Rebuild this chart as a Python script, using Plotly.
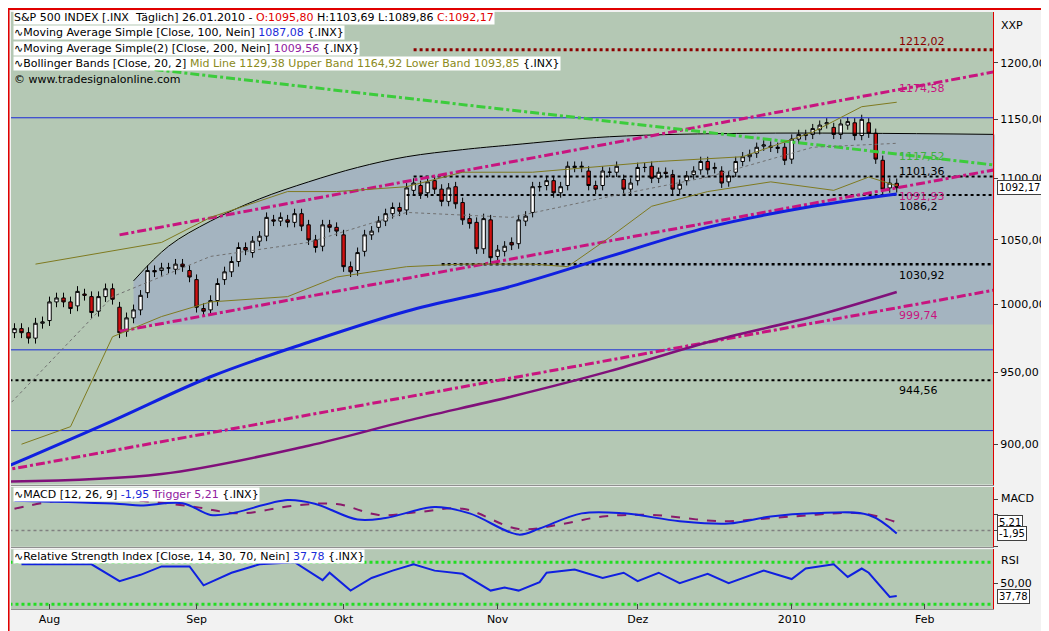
import math
import pandas as pd
import plotly.graph_objects as go
from plotly.subplots import make_subplots

# trading days Jul 21 2009 .. Feb 12 2010
holidays = ["2009-09-07", "2009-11-26", "2009-12-25", "2010-01-01", "2010-01-18", "2010-02-15"]
dates = [d for d in pd.bdate_range("2009-07-21", "2010-02-15") if d.strftime("%Y-%m-%d") not in holidays]

closes = [954, 954, 976, 979, 982, 979, 975, 986, 987,
          1002, 1005, 1002, 997, 1010, 1007, 994, 1006, 1012, 1004, 979, 990, 996, 1007, 1026, 1025, 1028, 1028, 1031, 1029, 1021,
          998, 995, 1003, 1016, 1025, 1033, 1044, 1042, 1049, 1053, 1068, 1065, 1068, 1064, 1071, 1061, 1050, 1044, 1062, 1060, 1057,
          1029, 1025, 1040, 1054, 1057, 1065, 1071, 1076, 1073, 1092, 1096, 1087, 1097, 1091, 1081, 1092, 1079, 1066, 1063, 1043, 1067, 1036,
          1042, 1045, 1046, 1066, 1069, 1093, 1093, 1098, 1088, 1093, 1110, 1110, 1110, 1094, 1091, 1106, 1105, 1110, 1091, 1096,
          1109, 1109, 1100, 1105, 1104, 1091, 1095, 1102, 1106, 1114, 1107, 1109, 1096, 1102, 1114, 1118, 1120, 1126, 1128, 1126, 1126, 1115,
          1133, 1137, 1137, 1142, 1145, 1147, 1137, 1146, 1148, 1136, 1150, 1138, 1116, 1091, 1096, 1092.17]
opens = [951, 954, 954, 976, 979, 982, 979, 975, 986,
         988, 1002, 1005, 1002, 999, 1008, 1006, 995, 1006, 1012, 998, 980, 990, 996, 1009, 1026, 1026, 1028, 1027, 1031, 1026,
         1019, 997, 996, 1003, 1019, 1025, 1033, 1044, 1040, 1049, 1053, 1066, 1065, 1066, 1064, 1071, 1062, 1050, 1045, 1062, 1060,
         1054, 1029, 1026, 1041, 1054, 1060, 1065, 1071, 1076, 1074, 1090, 1094, 1088, 1098, 1091, 1081, 1093, 1080, 1067, 1064, 1043, 1066,
         1037, 1041, 1048, 1047, 1065, 1072, 1093, 1094, 1098, 1088, 1094, 1109, 1109, 1106, 1094, 1094, 1105, 1105, 1099, 1091,
         1098, 1109, 1110, 1100, 1105, 1103, 1091, 1098, 1103, 1107, 1114, 1108, 1106, 1097, 1105, 1114, 1118, 1121, 1127, 1127, 1125, 1126,
         1116, 1133, 1136, 1137, 1141, 1146, 1143, 1137, 1145, 1147, 1136, 1147, 1138, 1115, 1092, 1095.8]
wick = 4

# indicators, sampled at trading-day indexes
ma100_idx = [3, 18, 32, 46, 60, 75, 89, 103, 118, 130]
ma100_val = [885, 916, 947, 972, 995, 1014, 1037, 1060, 1077, 1087.08]
ma200_idx = [3, 25, 46, 60, 75, 89, 103, 118, 130]
ma200_val = [875, 880, 899, 916, 933, 951, 972, 991, 1009.56]
bb_up_idx = [7, 18, 25, 32, 43, 50, 60, 68, 78, 86, 96, 108, 118, 125, 130]
bb_up_val = [1031, 1041, 1048, 1068, 1089, 1089, 1093, 1105, 1105, 1109, 1114, 1118, 1139, 1161, 1164.92]
bb_lo_idx = [5, 12, 18, 25, 32, 43, 50, 60, 68, 78, 83, 89, 95, 103, 112, 121, 126, 130]
bb_lo_val = [900, 912, 976, 991, 1002, 1006, 1021, 1029, 1031, 1031, 1029, 1052, 1077, 1089, 1097, 1090, 1101, 1093.85]
bb_mid_idx = [3, 18, 32, 46, 60, 75, 89, 103, 118, 130]
bb_mid_val = [926, 1006, 1037, 1048, 1072, 1068, 1085, 1101, 1126, 1129.38]
arc_idx = [21, 26, 32, 39, 46, 53, 60, 68, 75, 89, 110, 144]
arc_val = [1018, 1045, 1065, 1083, 1097, 1109, 1118, 1124, 1128, 1135, 1138, 1137]

macd_idx = [4, 19, 22, 28, 32, 35, 43, 47, 53, 57, 64, 69, 76, 79, 85, 91, 99, 106, 112, 118, 126, 130]
macd_val = [19, 17, 16, 17.5, 10, 11, 19.5, 17, 7, 8, 15, 11, -2.6, 1.3, 11, 11, 6, 4.5, 9, 11, 10, -1.95]
trig_idx = [4, 12, 22, 30, 36, 44, 50, 56, 62, 68, 76, 82, 88, 95, 105, 115, 125, 130]
trig_val = [14, 20, 19, 15, 11, 16, 17, 10, 12, 14, 1, 4, 9, 10, 6, 9, 11, 5.21]
rsi_idx = [5, 15, 19, 22, 25, 29, 31, 35, 39, 44, 48, 49, 52, 55, 58, 61, 64, 68, 72, 74, 76, 79, 80, 84, 88, 91, 93,
           96, 99, 103, 106, 111, 115, 117, 121, 123, 125, 126, 129, 130]
rsi_val = [68, 68, 52, 58, 66, 66, 48, 60, 68, 70, 53, 60, 43, 55, 62, 68, 62, 59, 43, 46, 43, 51, 60, 63, 55, 60, 52,
           60, 50, 59, 50, 62, 54, 64, 68, 56, 64, 60, 37, 37.78]

END = "2010-02-12 23:00"
X0_IDX, X1_IDX = 3.5, 143.75  # visible range in trading-day index
YLO, YHI = 873, 1247
GREY_BG = "#b4c8b4"
MAG = "#c8147f"
FONT = "DejaVu Sans"
lg = math.log10


def d(idx):
    return [dates[i] for i in idx]


def xf(i):
    return (i - X0_IDX) / (X1_IDX - X0_IDX)


def yf(v):
    return (lg(v) - lg(YLO)) / (lg(YHI) - lg(YLO))


fig = make_subplots(rows=3, cols=1, shared_xaxes=True, vertical_spacing=0.004,
                    row_heights=[0.79, 0.1, 0.1])

# shaded area under the arc (shape, below the candles)
pts = [(xf(arc_idx[0]), yf(985))] + [(xf(i), yf(v)) for i, v in zip(arc_idx, arc_val)] + [(1.0, yf(985))]
path = "M " + " L ".join(f"{a:.4f},{b:.4f}" for a, b in pts) + " Z"
shade = dict(type="path", xref="x domain", yref="y domain", path=path, fillcolor="#a4b4c0",
             line=dict(width=0), layer="below")

fig.add_trace(go.Scatter(x=d(arc_idx[:-1]) + [END], y=arc_val, mode="lines",
                         line=dict(color="black", width=1, shape="spline")), 1, 1)


def hline(y, color, dash, x0=None, width=1):
    fig.add_trace(go.Scatter(x=[x0 or "2009-07-20", END], y=[y, y], mode="lines",
                             line=dict(color=color, dash=dash, width=width)), 1, 1)


hline(1151.35, "#1a2ad8", "solid")
hline(966.43, "#1a2ad8", "solid")
hline(909.3, "#1a2ad8", "solid")
hline(1212.02, "#8b0000", "dot", dates[61], 3)
hline(1101.36, "black", "dot", dates[61], 2)
hline(1086.2, "black", "dot", dates[60], 2)
hline(1030.92, "black", "dot", dates[65], 2.5)
hline(944.56, "black", "dot", None, 2)

# trend lines
for x0, y0, y1, col in [(dates[19], 1054, 1192, MAG), (dates[19], 980, 1107, MAG),
                        ("2009-07-23", 882, 1011, MAG), (dates[24], 1194, 1111, "#3ccc3c")]:
    fig.add_trace(go.Scatter(x=[x0, END], y=[y0, y1], mode="lines",
                             line=dict(color=col, dash="dashdot", width=3)), 1, 1)

fig.add_trace(go.Scatter(x=d(bb_up_idx), y=bb_up_val, mode="lines", line=dict(color="#7f7a20", width=1)), 1, 1)
fig.add_trace(go.Scatter(x=d(bb_lo_idx), y=bb_lo_val, mode="lines", line=dict(color="#7f7a20", width=1)), 1, 1)
fig.add_trace(go.Scatter(x=d(bb_mid_idx), y=bb_mid_val, mode="lines", line=dict(color="#707070", width=1, dash="dot")), 1, 1)
fig.add_trace(go.Scatter(x=d(ma200_idx), y=ma200_val, mode="lines", line=dict(color="#80107a", width=2.5, shape="spline")), 1, 1)
fig.add_trace(go.Scatter(x=d(ma100_idx), y=ma100_val, mode="lines", line=dict(color="#1020e0", width=3, shape="spline")), 1, 1)

n = len(closes)
fig.add_trace(go.Candlestick(x=dates[:n], open=opens, close=closes,
                             high=[max(o, c) + wick for o, c in zip(opens, closes)],
                             low=[min(o, c) - wick for o, c in zip(opens, closes)],
                             increasing=dict(fillcolor="white", line=dict(color="black", width=1)),
                             decreasing=dict(fillcolor="#d01010", line=dict(color="black", width=1)),
                             whiskerwidth=0), 1, 1)

# MACD
fig.add_trace(go.Scatter(x=["2009-07-20", END], y=[0, 0], mode="lines", line=dict(color="#808080", dash="dot", width=1.5)), 2, 1)
fig.add_trace(go.Scatter(x=d(trig_idx), y=trig_val, mode="lines", line=dict(color="#8a1a6a", dash="dash", width=2, shape="spline")), 2, 1)
fig.add_trace(go.Scatter(x=d(macd_idx), y=macd_val, mode="lines", line=dict(color="#1020e0", width=2, shape="spline")), 2, 1)

# RSI
for lv in (70, 30):
    fig.add_trace(go.Scatter(x=["2009-07-20", END], y=[lv, lv], mode="lines", line=dict(color="#22dd22", dash="dot", width=3)), 3, 1)
fig.add_trace(go.Scatter(x=d(rsi_idx), y=rsi_val, mode="lines", line=dict(color="#1020e0", width=2)), 3, 1)

ann = []


def label(text, x, y, color):
    ann.append(dict(x=x, y=lg(y), xref="x", yref="y", text=text, showarrow=False,
                    font=dict(color=color, size=11, family=FONT), xanchor="left", yanchor="middle"))


label("1212,02", dates[130], 1220, "#8b0000")
label("1174,58", dates[130], 1177, MAG)
label("1117,52", dates[130], 1118, "#40b040")
label("1101,36", dates[130], 1106, "black")
label("1091,93", dates[130], 1085, MAG)
label("1086,2", dates[130], 1077, "black")
label("1030,92", dates[130], 1022, "black")
label("999,74", dates[130], 992, MAG)
label("944,56", dates[130], 937, "black")
label("0,00% - 1151,35", "2009-07-24", 1144, "#1a2ad8")
label("38,20% - 966,43", "2009-07-24", 960, "#1a2ad8")
label("50,00% - 909,3", "2009-07-24", 903, "#1a2ad8")

head = [
    "<span style='color:black'>S&P 500 INDEX [.INX  Täglich] 26.01.2010 - </span><span style='color:#e00000'>O:1095,80</span> H:1103,69 L:1089,86 <span style='color:#e00000'>C:1092,17</span>",
    "∿Moving Average Simple [Close, 100, Nein] <span style='color:#1a2ad8'>1087,08</span> {.INX}",
    "∿Moving Average Simple(2) [Close, 200, Nein] <span style='color:#9020a0'>1009,56</span> {.INX}",
    "∿Bollinger Bands [Close, 20, 2] <span style='color:#8a8a20'>Mid Line 1129,38 Upper Band 1164,92 Lower Band 1093,85</span> {.INX}",
    "© www.tradesignalonline.com",
]
for k, t in enumerate(head):
    ann.append(dict(x=0.002, y=1.005 - k * 0.033, xref="paper", yref="y domain", text=t, showarrow=False,
                    xanchor="left", yanchor="top", bgcolor="white" if k < 4 else "rgba(0,0,0,0)",
                    borderpad=0, font=dict(size=11, family=FONT, color="black")))
ann.append(dict(x=0.002, y=1, xref="paper", yref="y2 domain", text="∿MACD [12, 26, 9] <span style='color:#1a2ad8'>-1,95</span> <span style='color:#9020a0'>Trigger 5,21</span> {.INX}",
                showarrow=False, xanchor="left", yanchor="top", bgcolor="white", borderpad=0, font=dict(size=11, family=FONT)))
ann.append(dict(x=0.002, y=1, xref="paper", yref="y3 domain", text="∿Relative Strength Index [Close, 14, 30, 70, Nein] <span style='color:#1a2ad8'>37,78</span> {.INX}",
                showarrow=False, xanchor="left", yanchor="top", bgcolor="white", borderpad=0, font=dict(size=11, family=FONT)))

# right axis boxes / titles
for txt, yref, yv in [("XXP", "y domain", 0.99), ("MACD", "y2 domain", 0.95), ("RSI", "y3 domain", 0.95)]:
    ann.append(dict(x=1.006, y=yv, xref="paper", yref=yref, text=txt, showarrow=False, xanchor="left",
                    yanchor="top", font=dict(size=11, family=FONT)))
for txt, yref, yv in [("1092,17", "y", lg(1092.17)), ("5,21", "y2", 5.21), ("-1,95", "y2", -1.95), ("37,78", "y3", 37.78)]:
    ann.append(dict(x=1.004, y=yv, xref="paper", yref=yref, text=txt, showarrow=False, xanchor="left",
                    yanchor="middle", bgcolor="white", bordercolor="#404040", borderwidth=1, borderpad=1,
                    font=dict(size=10, family=FONT)))

fig.update_layout(
    width=1049, height=631, margin=dict(l=3, r=64, t=4, b=30),
    paper_bgcolor="#f2f2f2", plot_bgcolor=GREY_BG, showlegend=False,
    separators=",.", annotations=ann, font=dict(family=FONT, size=11, color="black"),
    shapes=[shade, dict(type="rect", xref="paper", yref="paper", x0=-0.003, x1=1.064, y0=-0.052, y1=1.006,
                        line=dict(color="#e00000", width=3))],
)
fig.update_xaxes(range=["2009-07-24 12:00", "2010-02-12 18:00"],
                 rangebreaks=[dict(bounds=["sat", "mon"]), dict(values=holidays)],
                 showgrid=False, zeroline=False, rangeslider_visible=False,
                 showline=True, linecolor="#909090")
fig.update_xaxes(tickvals=["2009-08-03", "2009-09-01", "2009-10-01", "2009-11-02", "2009-12-01", "2010-01-04", "2010-02-01"],
                 ticktext=["Aug", "Sep", "Okt", "Nov", "Dez", "2010", "Feb"], ticks="inside", ticklen=5,
                 tickfont=dict(size=11), row=3, col=1)
fig.update_yaxes(side="right", showgrid=False, zeroline=False, ticks="outside", ticklen=4,
                 showline=True, linecolor="#e00000")
fig.update_yaxes(type="log", range=[lg(YLO), lg(YHI)], tickvals=[900, 950, 1000, 1050, 1100, 1150, 1200],
                 tickformat=".2f", row=1, col=1)
fig.update_yaxes(range=[-10.4, 27.9], showticklabels=False, row=2, col=1)
fig.update_yaxes(range=[25.5, 82.4], tickvals=[50], tickformat=".2f", row=3, col=1)

fig.write_html("out.html")
